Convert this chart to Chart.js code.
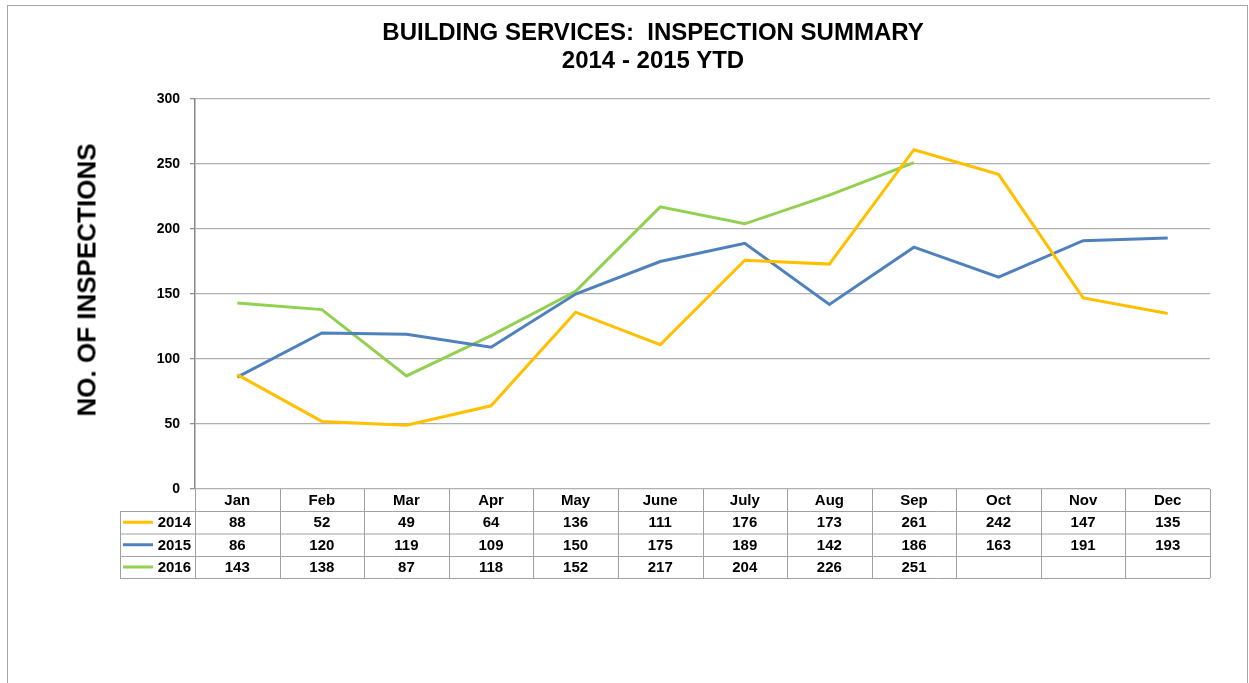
<!DOCTYPE html>
<html lang="en">
<head>
  <meta charset="utf-8">
  <script src="https://cdn.jsdelivr.net/npm/chart.js@4.4.0/dist/chart.umd.min.js"></script>
  <style>
    html, body { margin: 0; padding: 0; background: #fff; }
    .page { position: relative; width: 1249px; height: 683px; overflow: hidden; font-family: 'Liberation Sans', Arial, sans-serif; }
    .frame { position: absolute; left: 7px; top: 5px; width: 1239px; height: 720px; border: 1.5px solid #a6a6a6; }
    .title { position: absolute; left: 303px; width: 700px; top: 18px; text-align: center; font-weight: bold; font-size: 24px; line-height: 28px; white-space: pre; color: #000; }
    .ytitle { position: absolute; left: 87px; top: 280px; transform: translate(-50%, -50%) rotate(-90deg); font-weight: bold; font-size: 26px; white-space: nowrap; color: #000; }
    #chart { position: absolute; left: 0; top: 0; }
  </style>
</head>
<body>
  <div class="page">
    <div class="frame"></div>
    <canvas id="chart" width="1249" height="683"></canvas>
    <div class="title">BUILDING SERVICES:  INSPECTION SUMMARY
2014 - 2015 YTD</div>
    <div class="ytitle">NO. OF INSPECTIONS</div>
  </div>

  <script>
    const months = ['Jan', 'Feb', 'Mar', 'Apr', 'May', 'June', 'July', 'Aug', 'Sep', 'Oct', 'Nov', 'Dec'];
    const years = ['2014', '2015', '2016'];
    const values2014 = [88, 52, 49, 64, 136, 111, 176, 173, 261, 242, 147, 135];
    const values2015 = [86, 120, 119, 109, 150, 175, 189, 142, 186, 163, 191, 193];
    const values2016 = [143, 138, 87, 118, 152, 217, 204, 226, 251, null, null, null];
    const yTicks = [0, 50, 100, 150, 200, 250, 300];
    const colors = ['#FFC000', '#4F81BD', '#92D050'];

    const FONT = "'Liberation Sans', Arial, sans-serif";
    const allValues = [values2014, values2015, values2016];

    // data table under the plot, columns follow the x scale
    const dataTable = {
      id: 'dataTable',
      afterDraw(chart) {
        const ctx = chart.ctx;
        const x = chart.scales.x;
        const area = chart.chartArea;
        const half = (x.getPixelForValue(1) - x.getPixelForValue(0)) / 2;
        const top = area.bottom;
        const rowTops = [top, top + 22, top + 44.5, top + 67, top + 89];
        const labelLeft = 120;

        ctx.save();
        ctx.strokeStyle = '#a0a0a0';
        ctx.lineWidth = 1;
        // horizontal lines
        for (let r = 1; r < rowTops.length; r++) {
          ctx.beginPath();
          ctx.moveTo(labelLeft, rowTops[r] + 0.5);
          ctx.lineTo(area.right, rowTops[r] + 0.5);
          ctx.stroke();
        }
        // vertical lines
        ctx.beginPath();
        ctx.moveTo(labelLeft + 0.5, rowTops[1]);
        ctx.lineTo(labelLeft + 0.5, rowTops[4]);
        ctx.stroke();
        for (let i = 0; i <= months.length; i++) {
          const bx = Math.round(x.getPixelForValue(i) - half) + 0.5;
          ctx.beginPath();
          ctx.moveTo(bx, top);
          ctx.lineTo(bx, rowTops[4]);
          ctx.stroke();
        }

        ctx.fillStyle = '#000';
        ctx.font = 'bold 15px ' + FONT;
        ctx.textAlign = 'center';
        ctx.textBaseline = 'middle';
        months.forEach((m, i) => {
          ctx.fillText(m, x.getPixelForValue(i), (rowTops[0] + rowTops[1]) / 2 + 1);
        });
        allValues.forEach((vals, r) => {
          const cy = (rowTops[r + 1] + rowTops[r + 2]) / 2 + 1;
          vals.forEach((v, i) => {
            if (v !== null) ctx.fillText(String(v), x.getPixelForValue(i), cy);
          });
          // legend key + year
          ctx.strokeStyle = colors[r];
          ctx.lineWidth = 3;
          ctx.beginPath();
          ctx.moveTo(labelLeft + 3, cy - 1);
          ctx.lineTo(labelLeft + 33, cy - 1);
          ctx.stroke();
          ctx.textAlign = 'right';
          ctx.fillText(years[r], area.left - 4, cy);
          ctx.textAlign = 'center';
        });
        ctx.restore();
      }
    };

    new Chart(document.getElementById('chart'), {
      type: 'line',
      data: {
        labels: months,
        datasets: years.map((y, i) => ({
          label: y,
          data: allValues[i],
          borderColor: colors[i],
          backgroundColor: colors[i],
          borderWidth: 3,
          pointRadius: 0,
          tension: 0,
          spanGaps: false
        }))
      },
      options: {
        responsive: false,
        animation: false,
        layout: { padding: { left: 7, top: 99, right: 39, bottom: 194 } },
        plugins: {
          legend: { display: false },
          tooltip: { enabled: false }
        },
        scales: {
          x: {
            display: false,
            offset: true
          },
          y: {
            min: 0,
            max: 300,
            afterBuildTicks: s => { s.ticks = yTicks.map(v => ({ value: v })); },
            afterFit: s => { s.width = 188; },
            ticks: {
              color: '#000',
              padding: 10,
              font: { family: FONT, size: 14, weight: 'bold' }
            },
            grid: {
              color: '#b0b0b0',
              lineWidth: 1.3,
              tickLength: 5,
              tickColor: '#909090'
            },
            border: { display: true, color: '#888888', width: 1.5 }
          }
        }
      },
      plugins: [dataTable]
    });
  </script>
</body>
</html>
